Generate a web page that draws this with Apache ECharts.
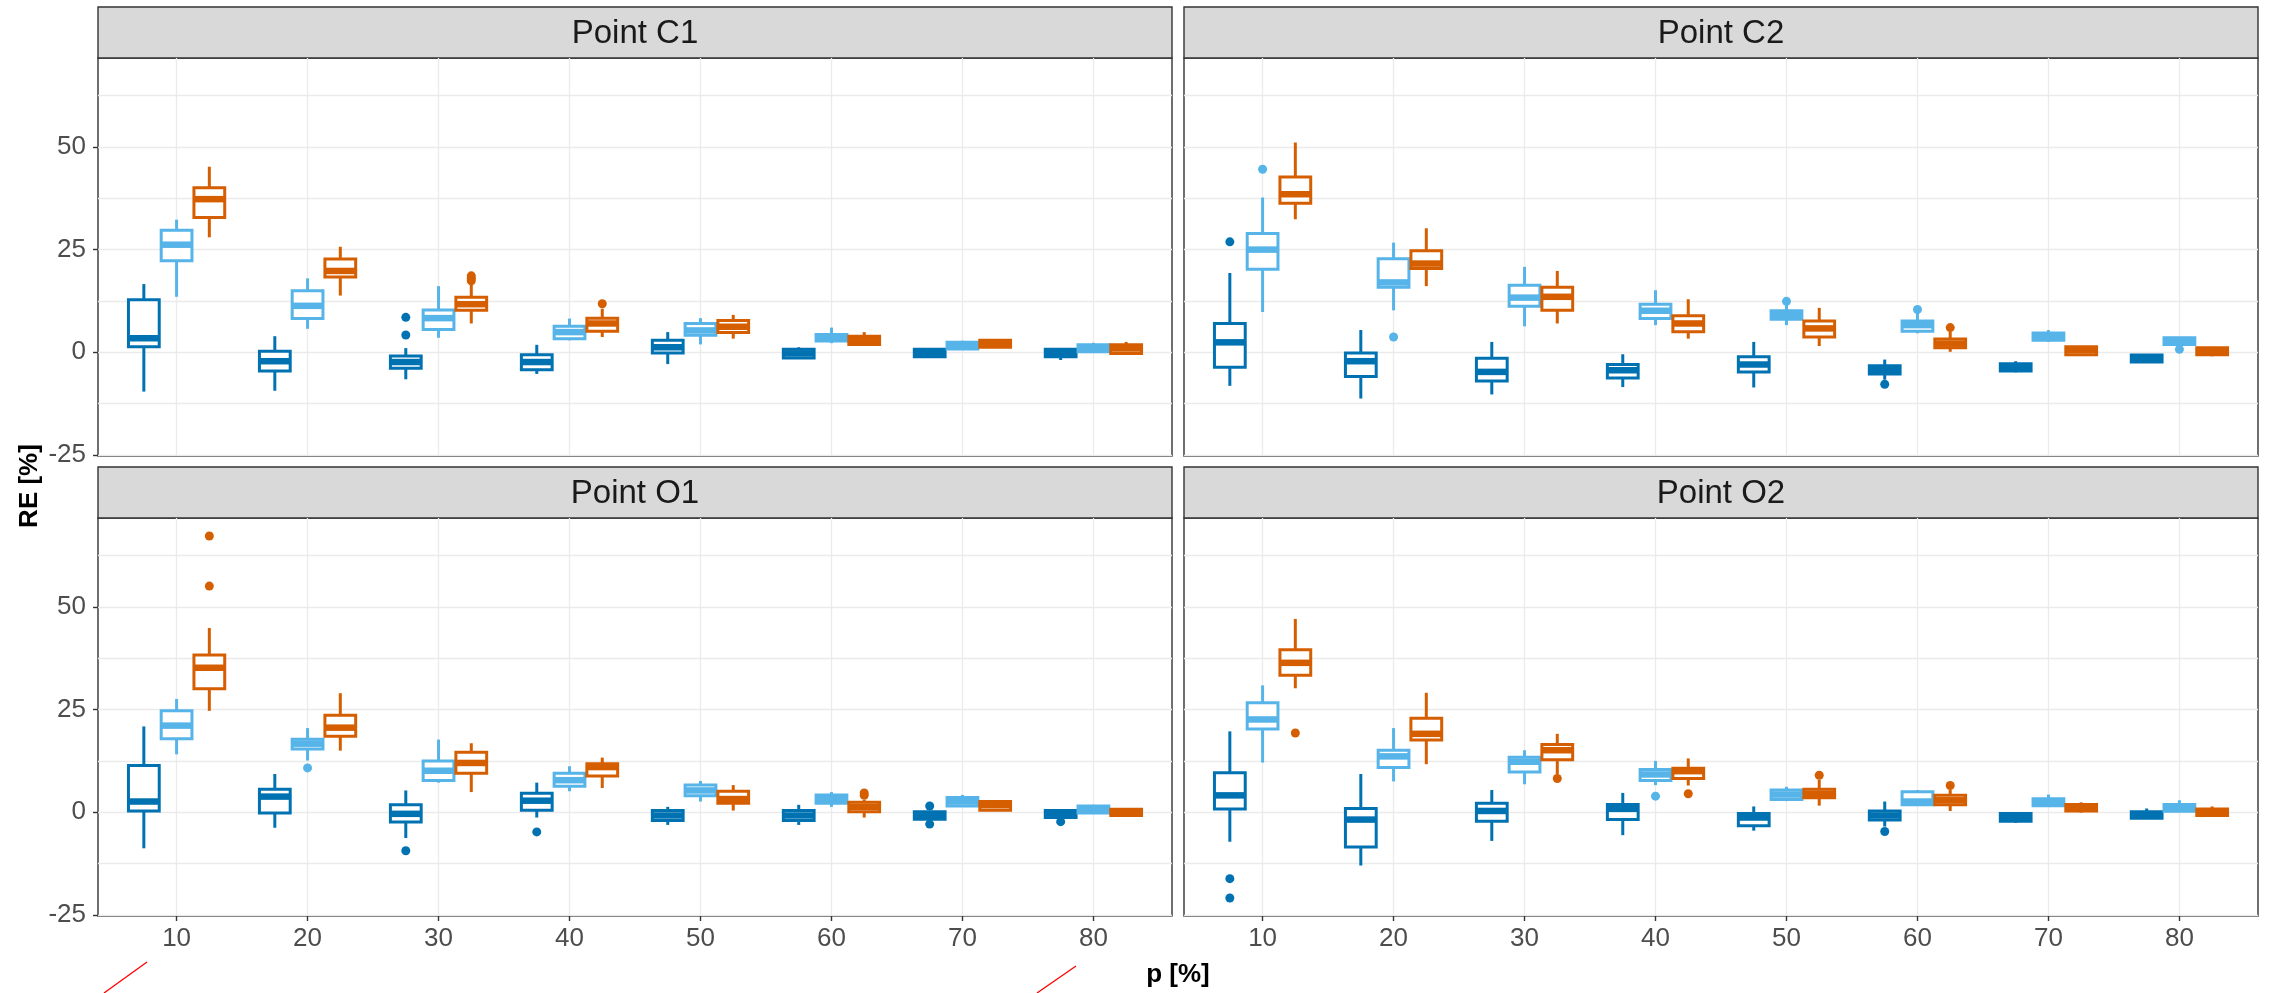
<!DOCTYPE html>
<html>
<head>
<meta charset="utf-8">
<script src="https://cdn.jsdelivr.net/npm/echarts@6/dist/echarts.min.js"></script>
<style>
  html, body { margin: 0; padding: 0; background: #fff; }
  #chart { width: 2270px; height: 993px; }
</style>
</head>
<body>
<div id="chart"></div>
<script>
// categories on the x axis (p [%])
const categories = ['10', '20', '30', '40', '50', '60', '70', '80'];
const panelTitles = ['Point C1', 'Point C2', 'Point O1', 'Point O2'];
const groupColors = ['#0072B2', '#56B4E9', '#D55E00'];
const yTickValues = [-25, 0, 25, 50];
const yGridValues = [-25, -12.5, 0, 12.5, 25, 37.5, 50, 62.5];

// each row: [lower whisker, Q1, median, Q3, upper whisker], one row per category
// outliers: [category number (1..8), value]
const c1Blue = [
  [-9.6, 1.3, 3.4, 12.8, 16.6],
  [-9.4, -4.6, -2.2, 0.2, 3.9],
  [-6.6, -3.9, -2.4, -0.9, 1.0],
  [-5.3, -4.3, -2.4, -0.6, 1.8],
  [-2.9, -0.2, 1.2, 2.9, 4.9],
  [-1.5, -1.4, -0.3, 0.7, 1.2],
  [-1.2, -1.1, -0.2, 0.7, 0.8],
  [-1.9, -1.1, -0.2, 0.7, 1.0]
];
const c1BlueOut = [[3, 4.2], [3, 8.5]];
const c1Sky = [
  [13.5, 22.3, 26.2, 29.7, 32.3],
  [5.7, 8.2, 11.3, 15.0, 18.0],
  [3.5, 5.5, 8.3, 10.3, 16.1],
  [2.9, 3.3, 4.9, 6.3, 8.2],
  [1.9, 4.1, 5.3, 7.0, 8.3],
  [2.2, 2.7, 3.6, 4.3, 6.0],
  [0.7, 0.8, 1.6, 2.4, 2.8],
  [0.0, 0.1, 1.0, 1.8, 2.3]
];
const c1SkyOut = [];
const c1Orange = [
  [28.0, 32.8, 37.3, 40.1, 45.2],
  [13.8, 18.3, 19.8, 22.7, 25.7],
  [7.0, 10.2, 11.7, 13.4, 16.8],
  [3.7, 5.1, 7.0, 8.3, 10.6],
  [3.3, 4.8, 6.2, 7.7, 9.1],
  [1.5, 1.9, 3.0, 3.9, 4.9],
  [1.2, 1.2, 2.1, 2.9, 2.9],
  [-0.6, -0.3, 0.9, 1.8, 2.5]
];
const c1OrangeOut = [[3, 17.4], [3, 18.0], [3, 18.6], [4, 11.8]];

const c2Blue = [
  [-8.2, -3.7, 2.4, 7.0, 19.3],
  [-11.3, -5.9, -2.2, -0.2, 5.4],
  [-10.3, -7.0, -4.8, -1.5, 2.5],
  [-8.5, -6.3, -4.4, -3.0, -0.5],
  [-8.6, -4.8, -3.0, -1.1, 2.5],
  [-6.7, -5.3, -4.4, -3.3, -1.8],
  [-4.9, -4.6, -3.6, -2.8, -2.2],
  [-2.5, -2.4, -1.5, -0.7, -0.6]
];
const c2BlueOut = [[1, 26.9], [6, -7.8]];
const c2Sky = [
  [9.8, 20.2, 25.0, 28.9, 37.7],
  [10.2, 15.8, 17.0, 22.8, 26.7],
  [6.3, 11.2, 13.3, 16.3, 20.8],
  [6.6, 8.2, 10.1, 11.7, 15.1],
  [6.6, 8.0, 9.0, 10.1, 11.9],
  [4.6, 5.1, 6.6, 7.6, 9.8],
  [2.5, 2.9, 3.9, 4.7, 5.4],
  [1.3, 1.9, 2.8, 3.5, 3.6]
];
const c2SkyOut = [[1, 44.6], [2, 3.7], [5, 12.4], [6, 10.4], [8, 0.7]];
const c2Orange = [
  [32.4, 36.3, 38.5, 42.7, 51.1],
  [16.1, 20.4, 21.6, 24.7, 30.2],
  [7.0, 10.2, 13.5, 15.8, 19.8],
  [3.3, 5.0, 7.0, 8.9, 12.9],
  [1.5, 3.7, 5.8, 7.6, 10.8],
  [0.1, 1.1, 2.1, 3.2, 5.0],
  [-0.7, -0.6, 0.5, 1.3, 1.5],
  [-1.0, -0.6, 0.3, 1.1, 1.3]
];
const c2OrangeOut = [[6, 6.0]];

const o1Blue = [
  [-8.8, 0.3, 2.6, 11.4, 20.9],
  [-3.8, -0.2, 3.8, 5.6, 9.3],
  [-6.3, -2.4, -0.4, 1.8, 5.3],
  [-1.3, 0.5, 2.8, 4.6, 7.2],
  [-3.1, -2.0, -0.8, 0.4, 1.3],
  [-3.1, -2.0, -0.8, 0.4, 1.8],
  [-1.9, -1.7, -0.8, 0.1, 0.3],
  [-1.8, -1.3, -0.3, 0.4, 0.4]
];
const o1BlueOut = [[3, -9.4], [4, -4.8], [7, 1.5], [7, -2.9], [8, -2.3]];
const o1Sky = [
  [14.1, 17.9, 21.1, 24.7, 27.6],
  [12.6, 15.4, 16.7, 17.8, 20.5],
  [7.2, 7.7, 10.1, 12.5, 17.7],
  [5.1, 6.3, 7.8, 9.5, 11.2],
  [2.6, 4.0, 5.3, 6.6, 7.6],
  [1.3, 2.2, 3.2, 4.2, 4.9],
  [1.3, 1.5, 2.6, 3.6, 4.2],
  [-0.2, -0.2, 0.7, 1.5, 1.8]
];
const o1SkyOut = [[2, 10.8]];
const o1Orange = [
  [24.7, 30.1, 35.2, 38.3, 44.9],
  [15.0, 18.5, 20.6, 23.6, 29.0],
  [4.9, 9.5, 12.0, 14.6, 16.8],
  [5.9, 8.8, 11.0, 11.8, 13.3],
  [0.4, 2.2, 3.2, 5.1, 6.6],
  [-1.3, 0.1, 1.3, 2.4, 3.0],
  [0.5, 0.5, 1.7, 2.6, 2.9],
  [-0.8, -0.8, -0.2, 0.7, 0.7]
];
const o1OrangeOut = [[1, 55.1], [1, 67.3], [6, 4.1], [6, 4.7]];

const o2Blue = [
  [-7.2, 0.8, 4.1, 9.6, 19.7],
  [-13.0, -8.5, -1.8, 0.9, 9.3],
  [-7.0, -2.2, 0.3, 2.2, 5.4],
  [-5.6, -1.8, 0.8, 1.9, 4.7],
  [-4.5, -3.3, -1.3, -0.3, 1.4],
  [-3.5, -1.9, -0.8, 0.3, 2.6],
  [-2.6, -2.2, -1.2, -0.3, 0.0],
  [-1.6, -1.5, -0.7, 0.1, 0.9]
];
const o2BlueOut = [[1, -16.2], [1, -20.9], [6, -4.7]];
const o2Sky = [
  [12.1, 20.3, 22.6, 26.7, 30.9],
  [7.5, 10.9, 13.6, 15.1, 20.5],
  [6.8, 9.8, 12.3, 13.4, 15.1],
  [6.6, 7.7, 9.2, 10.4, 12.5],
  [2.7, 3.1, 4.3, 5.4, 6.2],
  [1.8, 1.8, 2.6, 5.0, 5.4],
  [1.3, 1.6, 2.4, 3.3, 4.3],
  [0.2, 0.2, 1.0, 1.9, 2.9]
];
const o2SkyOut = [[4, 3.9]];
const o2Orange = [
  [30.2, 33.4, 36.4, 39.6, 47.1],
  [11.7, 17.6, 19.1, 22.9, 29.1],
  [9.2, 12.8, 15.1, 16.5, 19.1],
  [6.5, 8.2, 10.0, 10.7, 13.1],
  [1.6, 3.5, 4.5, 5.6, 7.9],
  [0.3, 1.8, 2.9, 4.1, 5.4],
  [-0.1, 0.3, 1.0, 1.9, 2.4],
  [-0.8, -0.8, -0.1, 0.8, 1.4]
];
const o2OrangeOut = [[1, 19.3], [3, 8.2], [4, 4.5], [5, 9.0], [6, 6.5]];

const panelBoxes = [
  [c1Blue, c1Sky, c1Orange],
  [c2Blue, c2Sky, c2Orange],
  [o1Blue, o1Sky, o1Orange],
  [o2Blue, o2Sky, o2Orange]
];
const panelOutliers = [
  [c1BlueOut, c1SkyOut, c1OrangeOut],
  [c2BlueOut, c2SkyOut, c2OrangeOut],
  [o1BlueOut, o1SkyOut, o1OrangeOut],
  [o2BlueOut, o2SkyOut, o2OrangeOut]
];

// layout (pixels)
const FONT = '"Liberation Sans", Arial, sans-serif';
const colLeft = [98, 1184];
const rowTop = [58, 518];
const PANEL_W = 1074;
const PANEL_H = 398;
const STRIP_H = 51;
const DODGE = [-0.25, 0, 0.25];
const BOX_W = 0.235;
const Y_MIN = -25.3;
const Y_MAX = 71.7;

const chart = echarts.init(document.getElementById('chart'));

// 箱线图绘制
function renderBox(params, api) {
  const x = api.value(0);
  const lo = api.coord([x, api.value(1)]);
  const q1 = api.coord([x, api.value(2)]);
  const md = api.coord([x, api.value(3)]);
  const q3 = api.coord([x, api.value(4)]);
  const hi = api.coord([x, api.value(5)]);
  const half = api.size([BOX_W, 0])[0] / 2;
  const color = api.visual('color');
  const thin = { stroke: color, lineWidth: 3 };
  return {
    type: 'group',
    children: [
      { type: 'line', shape: { x1: lo[0], y1: lo[1], x2: q1[0], y2: q1[1] }, style: thin },
      { type: 'line', shape: { x1: q3[0], y1: q3[1], x2: hi[0], y2: hi[1] }, style: thin },
      {
        type: 'rect',
        shape: { x: q3[0] - half, y: q3[1], width: half * 2, height: q1[1] - q3[1] },
        style: { fill: '#fff', stroke: color, lineWidth: 3 }
      },
      {
        type: 'line',
        shape: { x1: md[0] - half, y1: md[1], x2: md[0] + half, y2: md[1] },
        style: { stroke: color, lineWidth: 6.5 }
      }
    ]
  };
}

const grid = [];
const xAxis = [];
const yAxis = [];
const series = [];
const graphic = [];

panelTitles.forEach((title, i) => {
  const col = i % 2;
  const row = Math.floor(i / 2);
  const left = colLeft[col];
  const top = rowTop[row];

  grid.push({
    left: left, top: top, width: PANEL_W, height: PANEL_H,
    show: true, backgroundColor: '#fff', borderColor: '#333333', borderWidth: 1.4
  });

  xAxis.push({
    type: 'value', gridIndex: i, min: 0.4, max: 8.6, position: 'bottom',
    axisLine: { show: false, onZero: false },
    axisTick: {
      show: row === 1, length: 5,
      customValues: categories.map((c, k) => k + 1),
      lineStyle: { color: '#333333', width: 1.4 }
    },
    axisLabel: {
      show: row === 1, margin: 10, fontSize: 26, color: '#4D4D4D', fontFamily: FONT,
      customValues: categories.map((c, k) => k + 1),
      formatter: v => categories[Math.round(v) - 1]
    },
    splitLine: { show: true, lineStyle: { color: '#EBEBEB', width: 1.3 } }
  });

  yAxis.push({
    type: 'value', gridIndex: i, min: Y_MIN, max: Y_MAX, position: 'left',
    axisLine: { show: false, onZero: false },
    axisTick: {
      show: col === 0, length: 5, customValues: yTickValues,
      lineStyle: { color: '#333333', width: 1.4 }
    },
    axisLabel: {
      show: col === 0, margin: 12, fontSize: 26, color: '#4D4D4D', fontFamily: FONT,
      customValues: yTickValues
    },
    splitLine: { show: false }
  });
  // grid lines only
  yAxis.push({
    type: 'value', gridIndex: i, min: Y_MIN, max: Y_MAX, position: 'right',
    axisLine: { show: false, onZero: false },
    axisTick: { show: false, customValues: yGridValues },
    axisLabel: { show: false },
    splitLine: { show: true, lineStyle: { color: '#EBEBEB', width: 1.3 } }
  });

  groupColors.forEach((color, g) => {
    series.push({
      type: 'custom',
      xAxisIndex: i,
      yAxisIndex: i * 2,
      color: color,
      z: 3,
      renderItem: renderBox,
      encode: { x: 0, y: [1, 2, 3, 4, 5] },
      data: panelBoxes[i][g].map((r, k) => [k + 1 + DODGE[g]].concat(r))
    });
    series.push({
      type: 'scatter',
      xAxisIndex: i,
      yAxisIndex: i * 2,
      z: 4,
      symbolSize: 9,
      itemStyle: { color: color, opacity: 1 },
      data: panelOutliers[i][g].map(([c, v]) => [c + DODGE[g], v])
    });
  });

  // 分面标题
  graphic.push({
    type: 'rect',
    shape: { x: left, y: top - STRIP_H, width: PANEL_W, height: STRIP_H },
    style: { fill: '#D9D9D9', stroke: '#333333', lineWidth: 1.4 }
  });
  graphic.push({
    type: 'text',
    x: left + PANEL_W / 2, y: top - STRIP_H / 2 + 1,
    style: {
      text: title, fill: '#1A1A1A', fontSize: 33, fontFamily: FONT,
      textAlign: 'center', textVerticalAlign: 'middle'
    }
  });
});

// axis titles
graphic.push({
  type: 'text', x: 30, y: 486, rotation: Math.PI / 2,
  style: {
    text: 'RE [%]', fill: '#000', fontSize: 26, fontWeight: 'bold', fontFamily: FONT,
    textAlign: 'center', textVerticalAlign: 'middle'
  }
});
graphic.push({
  type: 'text', x: 1178, y: 975,
  style: {
    text: 'p [%]', fill: '#000', fontSize: 26, fontWeight: 'bold', fontFamily: FONT,
    textAlign: 'center', textVerticalAlign: 'middle'
  }
});
// red marks at the bottom edge
graphic.push({
  type: 'line', shape: { x1: 104, y1: 993, x2: 147, y2: 962 },
  style: { stroke: '#FF0000', lineWidth: 1.3 }
});
graphic.push({
  type: 'line', shape: { x1: 1037, y1: 993, x2: 1076, y2: 966 },
  style: { stroke: '#FF0000', lineWidth: 1.3 }
});

chart.setOption({
  animation: false,
  backgroundColor: '#fff',
  textStyle: { fontFamily: FONT },
  grid: grid,
  xAxis: xAxis,
  yAxis: yAxis,
  series: series,
  graphic: graphic
});
</script>
</body>
</html>
